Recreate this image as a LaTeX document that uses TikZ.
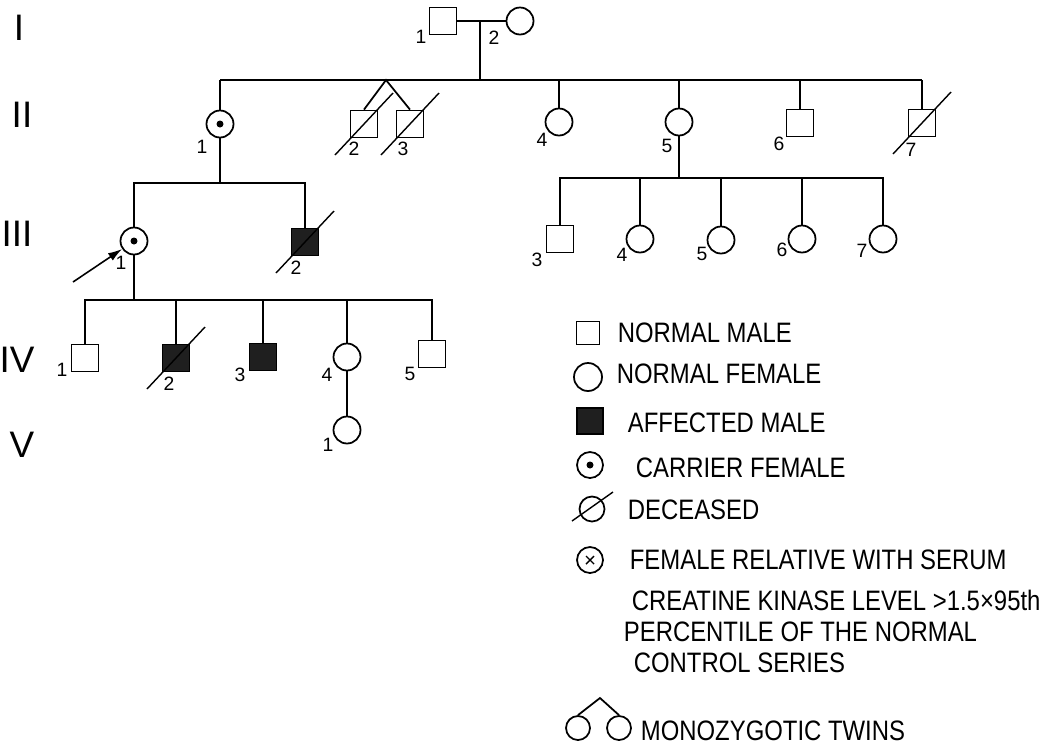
\documentclass[tikz,border=0pt]{standalone}
\usepackage{fontspec}
\setmainfont{Liberation Sans}
\newfontfamily\legfont{Liberation Sans}[FakeStretch=0.85]
\usepackage{tikz}
\usetikzlibrary{arrows.meta, positioning}

% slash across a deceased individual
\newcommand{\deadmark}[1]{\draw[slash] ([shift={(-29,31)}]#1.center) -- ([shift={(29,-31)}]#1.center);}

\begin{document}
\begin{tikzpicture}[x=0.02cm, y=-0.02cm, line width=1pt,
  male/.style={draw, minimum size=0.54cm, inner sep=0pt},
  female/.style={draw, circle, minimum size=0.54cm, inner sep=0pt},
  affected/.style={male, fill=black!88},
  carrier/.style={female, path picture={\fill (path picture bounding box.center) circle (0.07cm);}},
  ckfemale/.style={female, path picture={
      \draw[line width=0.8pt] ([shift={(-4,-4)}]path picture bounding box.center) -- ([shift={(4,4)}]path picture bounding box.center);
      \draw[line width=0.8pt] ([shift={(-4,4)}]path picture bounding box.center) -- ([shift={(4,-4)}]path picture bounding box.center);}},
  num/.style={font=\fontsize{11}{11}\selectfont, inner sep=0pt},
  gen/.style={font=\fontsize{21}{21}\selectfont, inner sep=0pt},
  legtext/.style={anchor=west, font=\legfont\fontsize{16}{18}\selectfont, inner sep=0pt},
  slash/.style={line width=0.8pt},
  proband/.style={-{Latex[length=8pt, width=5pt]}, line width=0.9pt}
]
\useasboundingbox (0,0) rectangle (1062,748);

% Generation labels
\node[gen] (gI) at (19,28) {I};
\node[gen] (gII) at (22,115) {II};
\node[gen] (gIII) at (17,234) {III};
\node[gen] (gIV) at (17,360) {IV};
\node[gen] (gV) at (22,445) {V};

% Generation I
\node[male] (i1) at (443,21) {};
\node[female] (i2) at (520,21) {};
\node[num] (n-i1) at (421,37) {1};
\node[num] (n-i2) at (494,38) {2};
\coordinate (m1) at (480,21);
\coordinate (s1) at (480,80);
\draw (i1) -- (i2);
\draw (m1) -- (s1);

% Generation II
\node[carrier] (ii1) at (220,124) {};
\node[male] (ii2) at (364,124) {};
\node[male] (ii3) at (410,124) {};
\node[female] (ii4) at (559,122) {};
\node[female] (ii5) at (679,122) {};
\node[male] (ii6) at (800,123) {};
\node[male] (ii7) at (922,123) {};
\node[num] (n-ii1) at (202,147) {1};
\node[num] (n-ii2) at (354,149) {2};
\node[num] (n-ii3) at (403,149) {3};
\node[num] (n-ii4) at (542,140) {4};
\node[num] (n-ii5) at (667,146) {5};
\node[num] (n-ii6) at (779,144) {6};
\node[num] (n-ii7) at (911,150) {7};
\coordinate (tw) at (386,80);
\draw (ii1 |- s1) -- (ii7 |- s1);
\draw (ii1) -- (ii1 |- s1);
\draw (ii2.north) -- (tw) -- (ii3.north);
\draw (ii4) -- (ii4 |- s1);
\draw (ii5) -- (ii5 |- s1);
\draw (ii6) -- (ii6 |- s1);
\draw (ii7) -- (ii7 |- s1);
\deadmark{ii2}
\deadmark{ii3}
\deadmark{ii7}

% Generation III, children of II-1
\coordinate (s2) at (220,183);
\node[carrier] (iii1) at (134,241) {};
\node[affected] (iii2) at (305,242) {};
\node[num] (n-iii1) at (121,263) {1};
\node[num] (n-iii2) at (296,268) {2};
\draw (ii1) -- (s2);
\draw (iii1) |- (s2) -| (iii2);
\deadmark{iii2}
\coordinate (pb) at (73,282);
\draw[proband] (pb) -- (iii1);

% Generation III, children of II-5
\coordinate (s4) at (679,178);
\node[male] (iii3) at (560,239) {};
\node[female] (iii4) at (640,239) {};
\node[female] (iii5) at (721,240) {};
\node[female] (iii6) at (802,239) {};
\node[female] (iii7) at (883,239) {};
\node[num] (n-iii3) at (537,260) {3};
\node[num] (n-iii4) at (622,255) {4};
\node[num] (n-iii5) at (702,254) {5};
\node[num] (n-iii6) at (782,250) {6};
\node[num] (n-iii7) at (862,251) {7};
\draw (ii5) -- (s4);
\draw (iii3) |- (s4) -| (iii7);
\draw (iii4) -- (iii4 |- s4);
\draw (iii5) -- (iii5 |- s4);
\draw (iii6) -- (iii6 |- s4);

% Generation IV
\coordinate (s3) at (134,300);
\node[male] (iv1) at (85,358) {};
\node[affected] (iv2) at (176,358) {};
\node[affected] (iv3) at (263,357) {};
\node[female] (iv4) at (347,357) {};
\node[male] (iv5) at (432,354) {};
\node[num] (n-iv1) at (62,370) {1};
\node[num] (n-iv2) at (169,384) {2};
\node[num] (n-iv3) at (240,375) {3};
\node[num] (n-iv4) at (327,375) {4};
\node[num] (n-iv5) at (410,374) {5};
\draw (iii1) -- (s3);
\draw (iv1) |- (s3) -| (iv5);
\draw (iv2) -- (iv2 |- s3);
\draw (iv3) -- (iv3 |- s3);
\draw (iv4) -- (iv4 |- s3);
\deadmark{iv2}

% Generation V
\node[female] (v1) at (347,430) {};
\node[num] (n-v1) at (328,445) {1};
\draw (iv4) -- (v1);

% Legend
\node[male, minimum size=0.46cm] (k-male) at (588,333) {};
\node[legtext] (t-male) at (617,333) {NORMAL MALE};
\node[female, minimum size=0.56cm] (k-female) at (588,377) {};
\node[legtext] (t-female) at (616,374) {NORMAL FEMALE};
\node[affected, minimum size=0.52cm] (k-aff) at (590,421) {};
\node[legtext] (t-aff) at (627,423) {AFFECTED MALE};
\node[carrier, minimum size=0.52cm] (k-car) at (590,465) {};
\node[legtext] (t-car) at (635,468) {CARRIER FEMALE};
\node[female, minimum size=0.5cm] (k-dec) at (592,509) {};
\draw[slash] ([shift={(-20,12)}]k-dec.center) -- ([shift={(21,-17)}]k-dec.center);
\node[legtext] (t-dec) at (627,510) {DECEASED};
\node[ckfemale, minimum size=0.52cm] (k-ck) at (590,560) {};
\node[legtext] (t-ck1) at (629,560) {FEMALE RELATIVE WITH SERUM};
\node[legtext] (t-ck2) at (631,600) {CREATINE KINASE LEVEL {>}1.5×95th};
\node[legtext] (t-ck3) at (623,632) {PERCENTILE OF THE NORMAL};
\node[legtext] (t-ck4) at (633,663) {CONTROL SERIES};
\node[female, minimum size=0.48cm] (k-tw1) at (578,728) {};
\node[female, minimum size=0.48cm] (k-tw2) at (619,728) {};
\coordinate (k-apex) at (600,698);
\draw (k-tw1.north) -- (k-apex) -- (k-tw2.north);
\node[legtext] (t-tw) at (640,731) {MONOZYGOTIC TWINS};
\end{tikzpicture}
\end{document}
